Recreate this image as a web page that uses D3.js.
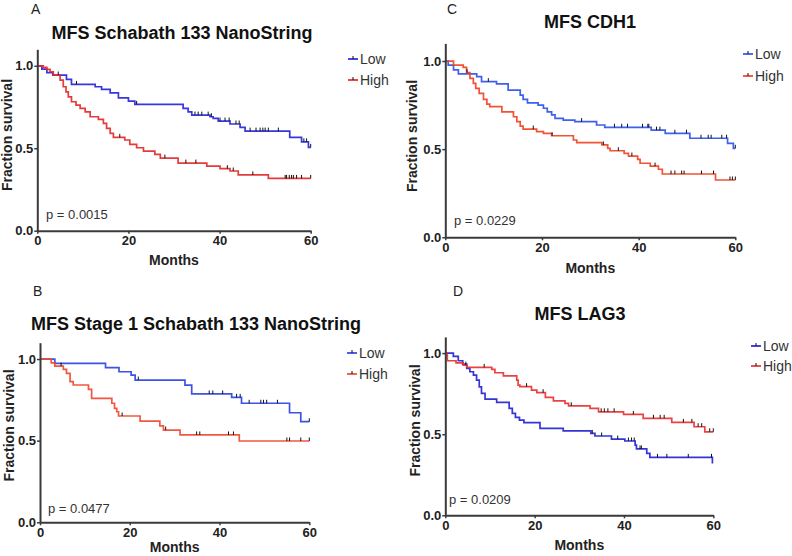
<!DOCTYPE html>
<html>
<head>
<meta charset="utf-8">
<script src="https://cdn.jsdelivr.net/npm/d3@7"></script>
<style>
  html, body { margin: 0; padding: 0; background: #fff; }
  svg { display: block; font-family: "Liberation Sans", Arial, sans-serif; }
</style>
</head>
<body>
<svg id="chart" width="792" height="556"></svg>
<script>
// ---------------- DATA ----------------
const xTicks = [0, 20, 40, 60];
const yTicks = [0, 0.5, 1.0];
const seriesNames = ["Low", "High"];
const panelLetters = ["A", "C", "B", "D"];
const panelTitles = ["MFS Schabath 133 NanoString", "MFS CDH1", "MFS Stage 1 Schabath 133 NanoString", "MFS LAG3"];
const pValues = ["p = 0.0015", "p = 0.0229", "p = 0.0477", "p = 0.0209"];

// Panel A
const aLowT = [0, 1.0, 2.1, 3.4, 6.4, 7.5, 12.7, 14.1, 16.0, 17.8, 20.0, 21.4, 32.0, 33.1, 33.9, 37.9, 38.6, 39.7, 42.3, 44.5, 45.6, 55.4, 58.0, 59.5];
const aLowS = [1.0, 0.98, 0.958, 0.944, 0.918, 0.887, 0.873, 0.857, 0.836, 0.806, 0.786, 0.766, 0.742, 0.721, 0.701, 0.691, 0.681, 0.665, 0.647, 0.627, 0.604, 0.566, 0.539, 0.505];
const aLowC = [8.6, 21.8, 34.6, 35.3, 36.1, 37.5, 38.2, 40.1, 41.2, 42.1, 43.6, 44.3, 46.7, 48.0, 48.9, 49.5, 50.0, 50.7, 52.9, 58.5, 59.1, 60];
const aHighT = [0, 1.3, 2.1, 2.8, 3.5, 5.0, 5.7, 6.3, 6.8, 7.5, 8.5, 9.4, 10.5, 11.6, 13.4, 14.5, 15.2, 16.0, 16.7, 19.2, 20.3, 21.8, 23.3, 25.8, 27.0, 30.9, 37.2, 40.1, 42.3, 44.1, 50.7];
const aHighS = [1.0, 0.99, 0.978, 0.964, 0.944, 0.913, 0.873, 0.842, 0.812, 0.782, 0.762, 0.742, 0.721, 0.691, 0.675, 0.651, 0.621, 0.59, 0.566, 0.55, 0.524, 0.503, 0.483, 0.463, 0.44, 0.41, 0.392, 0.376, 0.362, 0.338, 0.317];
const aHighC = [4.6, 18.1, 28.0, 32.6, 34.8, 41.7, 43.0, 47.3, 54.4, 54.7, 55.3, 55.8, 56.2, 56.9, 58.0, 60];

// Panel C
const cLowT = [0, 0.6, 1.7, 2.7, 6.5, 7.5, 10.6, 13.0, 15.5, 16.1, 17.0, 19.2, 20.3, 21.1, 22.0, 22.7, 24.4, 26.8, 31.3, 33.0, 42.6, 45.5, 50.6, 58.4, 59.6];
const cLowS = [1.0, 0.977, 0.95, 0.927, 0.911, 0.883, 0.87, 0.835, 0.806, 0.782, 0.763, 0.75, 0.732, 0.712, 0.694, 0.675, 0.665, 0.656, 0.637, 0.624, 0.608, 0.59, 0.562, 0.533, 0.505];
const cLowC = [8.9, 28.2, 35.0, 36.5, 37.7, 40.8, 41.9, 42.1, 43.7, 44.4, 47.5, 49.9, 52.9, 54.4, 55.0, 57.2, 58.2, 60];
const cHighT = [0, 1.7, 3.7, 4.4, 5.1, 5.8, 6.3, 7.0, 7.9, 8.6, 9.2, 11.7, 14.1, 14.8, 15.5, 16.1, 18.9, 20.3, 22.0, 26.5, 27.2, 32.4, 33.6, 34.1, 37.0, 37.9, 39.8, 40.3, 42.4, 44.1, 44.9, 55.9];
const cHighS = [1.0, 0.977, 0.964, 0.934, 0.902, 0.873, 0.845, 0.817, 0.783, 0.756, 0.741, 0.712, 0.684, 0.656, 0.631, 0.614, 0.599, 0.59, 0.576, 0.552, 0.537, 0.524, 0.505, 0.491, 0.476, 0.461, 0.442, 0.42, 0.404, 0.386, 0.359, 0.325];
const cHighC = [4.5, 18.2, 22.1, 32.7, 35.8, 38.6, 43.4, 46.7, 47.5, 48.9, 49.4, 53.0, 55.5, 58.9, 59.4, 60];

// Panel B
const bLowT = [0, 3.3, 14.6, 17.6, 20.3, 21.2, 32.3, 33.8, 42.7, 44.9, 55.6, 58.1];
const bLowS = [1.0, 0.973, 0.947, 0.922, 0.902, 0.871, 0.84, 0.786, 0.765, 0.729, 0.671, 0.616];
const bLowC = [21.9, 37.7, 38.5, 40.7, 43.8, 44.6, 46.6, 49.2, 49.8, 50.5, 52.9, 60];
const bHighT = [0, 2.5, 3.3, 5.2, 5.9, 6.7, 7.4, 10.8, 11.5, 16.0, 16.6, 17.1, 17.5, 22.3, 26.7, 27.5, 31.2, 44.4];
const bHighS = [1.0, 0.977, 0.957, 0.937, 0.912, 0.861, 0.841, 0.814, 0.759, 0.729, 0.698, 0.677, 0.651, 0.62, 0.59, 0.565, 0.535, 0.498];
const bHighC = [4.7, 18.3, 28.0, 34.9, 35.6, 42.0, 43.1, 55.0, 55.6, 58.1, 60];

// Panel D
const dLowT = [0, 1.8, 2.9, 3.9, 4.8, 5.5, 6.3, 7.0, 7.6, 8.1, 8.9, 11.5, 14.3, 15.0, 15.7, 16.6, 17.6, 21.2, 26.4, 32.6, 33.5, 37.2, 40.2, 42.5, 42.8, 45.1, 45.8, 59.8];
const dLowS = [1.0, 0.98, 0.953, 0.932, 0.906, 0.885, 0.864, 0.834, 0.792, 0.752, 0.716, 0.696, 0.659, 0.628, 0.604, 0.587, 0.571, 0.536, 0.521, 0.505, 0.489, 0.47, 0.458, 0.433, 0.409, 0.382, 0.357, 0.32];
const dLowC = [32.9, 35.0, 38.6, 41.0, 41.7, 42.3, 43.6, 43.9, 47.5, 49.6, 54.4, 59.6];
const dHighT = [0, 0.45, 2.4, 4.0, 4.8, 10.4, 11.1, 13.0, 16.0, 16.3, 16.7, 19.3, 20.5, 22.4, 24.2, 26.8, 27.6, 32.4, 34.3, 39.9, 44.3, 50.7, 55.7, 58.1];
const dHighS = [1.0, 0.953, 0.94, 0.926, 0.912, 0.9, 0.879, 0.86, 0.834, 0.803, 0.793, 0.772, 0.756, 0.727, 0.706, 0.69, 0.675, 0.659, 0.638, 0.622, 0.598, 0.573, 0.546, 0.515];
const dHighC = [4.6, 8.7, 18.2, 21.9, 28.2, 34.9, 35.6, 36.4, 37.8, 42.1, 46.6, 48.1, 49.0, 53.3, 55.2, 56.6, 57.4, 59.2, 60];

// ---------------- LAYOUT ----------------
const panels = [
  { x0: 37.3, x1: 310.7, yb: 230.7, yt: 49.3, titleX: 182, titleY: 39, letX: 31, letY: 14, legX: 348, legY: [59, 80], pX: 46, pY: 218.5, ylabX: 11.5, ylabY: 135, monthsY: 265,
    low: { t: aLowT, s: aLowS, c: aLowC, color: "#2626dc" }, high: { t: aHighT, s: aHighS, c: aHighC, color: "#e42a2a" } },
  { x0: 445.3, x1: 735.3, yb: 237.3, yt: 43.4, titleX: 590, titleY: 28, letX: 447, letY: 14, legX: 743, legY: [54, 76], pX: 454, pY: 224.5, ylabX: 416.5, ylabY: 136, monthsY: 273,
    low: { t: cLowT, s: cLowS, c: cLowC, color: "#2f52ea" }, high: { t: cHighT, s: cHighS, c: cHighC, color: "#ef4424" } },
  { x0: 40, x1: 309.3, yb: 522.3, yt: 342.7, titleX: 196, titleY: 330, letX: 33, letY: 296, legX: 347, legY: [353, 374], pX: 48, pY: 512.5, ylabX: 14, ylabY: 425.5, monthsY: 552,
    low: { t: bLowT, s: bLowS, c: bLowC, color: "#2b44e4" }, high: { t: bHighT, s: bHighS, c: bHighC, color: "#ee4a32" } },
  { x0: 445.3, x1: 713.3, yb: 515.3, yt: 336.9, titleX: 580, titleY: 320, letX: 453, letY: 296, legX: 751, legY: [346, 366], pX: 449, pY: 504, ylabX: 420, ylabY: 420.5, monthsY: 550,
    low: { t: dLowT, s: dLowS, c: dLowC, color: "#2424d4" }, high: { t: dHighT, s: dHighS, c: dHighC, color: "#e83232" } }
];

const svg = d3.select("#chart");
const axisColor = "#3a3a3a";

panels.forEach((p, i) => {
  const x = d3.scaleLinear().domain([0, 60]).range([p.x0, p.x1]);
  const y = d3.scaleLinear().domain([0, 1.1]).range([p.yb, p.yt]);
  const g = svg.append("g");

  // curves
  [p.low, p.high].forEach(ser => {
    const pts = ser.t.map((t, k) => [t, ser.s[k]]);
    const lastC = d3.max(ser.c);
    if (lastC > pts[pts.length - 1][0]) pts.push([lastC, ser.s[ser.s.length - 1]]);
    const line = d3.line().x(d => x(d[0])).y(d => y(d[1])).curve(d3.curveStepAfter);
    g.append("path").attr("d", line(pts)).attr("fill", "none")
      .attr("stroke", ser.color).attr("stroke-width", 1.7).attr("stroke-opacity", 0.92);
    // censor marks
    const sAt = tc => { let v = ser.s[0]; ser.t.forEach((t, k) => { if (t <= tc) v = ser.s[k]; }); return v; };
    g.selectAll(null).data(ser.c).enter().append("line")
      .attr("x1", d => x(d)).attr("x2", d => x(d))
      .attr("y1", d => y(sAt(d))).attr("y2", d => y(sAt(d)) - 3.5)
      .attr("stroke", "#111").attr("stroke-width", 1);
  });

  // axes
  const yAxis = d3.axisLeft(y).tickValues(yTicks).tickFormat(d3.format(".1f")).tickSize(3).tickSizeOuter(0).tickPadding(1);
  const xAxis = d3.axisBottom(x).tickValues(xTicks).tickSize(3).tickSizeOuter(0).tickPadding(2);
  const ya = g.append("g").attr("transform", `translate(${p.x0},0)`).call(yAxis);
  const xa = g.append("g").attr("transform", `translate(0,${p.yb})`).call(xAxis);
  [ya, xa].forEach(a => {
    a.select(".domain").attr("stroke", axisColor).attr("stroke-width", 2);
    a.selectAll(".tick line").attr("stroke", axisColor).attr("stroke-width", 1.5);
    a.selectAll(".tick text").attr("fill", "#222").style("font-size", "13px").style("font-weight", "bold")
      .style("font-family", "'Liberation Sans', Arial, sans-serif");
  });

  // axis titles
  g.append("text").attr("x", (p.x0 + p.x1) / 2).attr("y", p.monthsY).attr("text-anchor", "middle")
    .style("font-size", "14px").style("font-weight", "bold").attr("fill", "#222").text("Months");
  g.append("text").attr("transform", `translate(${p.ylabX},${p.ylabY}) rotate(-90)`).attr("text-anchor", "middle")
    .style("font-size", "14px").style("font-weight", "bold").attr("fill", "#222").text("Fraction survival");

  // title + letter
  g.append("text").attr("x", p.titleX).attr("y", p.titleY).attr("text-anchor", "middle")
    .style("font-size", "18px").style("font-weight", "bold").attr("fill", "#111").text(panelTitles[i]);
  g.append("text").attr("x", p.letX).attr("y", p.letY)
    .style("font-size", "14px").attr("fill", "#222").text(panelLetters[i]);

  // p value
  g.append("text").attr("x", p.pX).attr("y", p.pY)
    .style("font-size", "13px").attr("fill", "#333").text(pValues[i]);

  // legend
  [p.low, p.high].forEach((ser, k) => {
    const ly = p.legY[k];
    g.append("line").attr("x1", p.legX).attr("x2", p.legX + 10).attr("y1", ly).attr("y2", ly)
      .attr("stroke", ser.color).attr("stroke-width", 1.7);
    g.append("line").attr("x1", p.legX + 5).attr("x2", p.legX + 5).attr("y1", ly).attr("y2", ly - 3)
      .attr("stroke", "#111").attr("stroke-width", 1);
    g.append("text").attr("x", p.legX + 12).attr("y", ly).attr("dy", "0.35em")
      .style("font-size", "14px").attr("fill", "#333").text(seriesNames[k]);
  });
});
</script>
</body>
</html>
